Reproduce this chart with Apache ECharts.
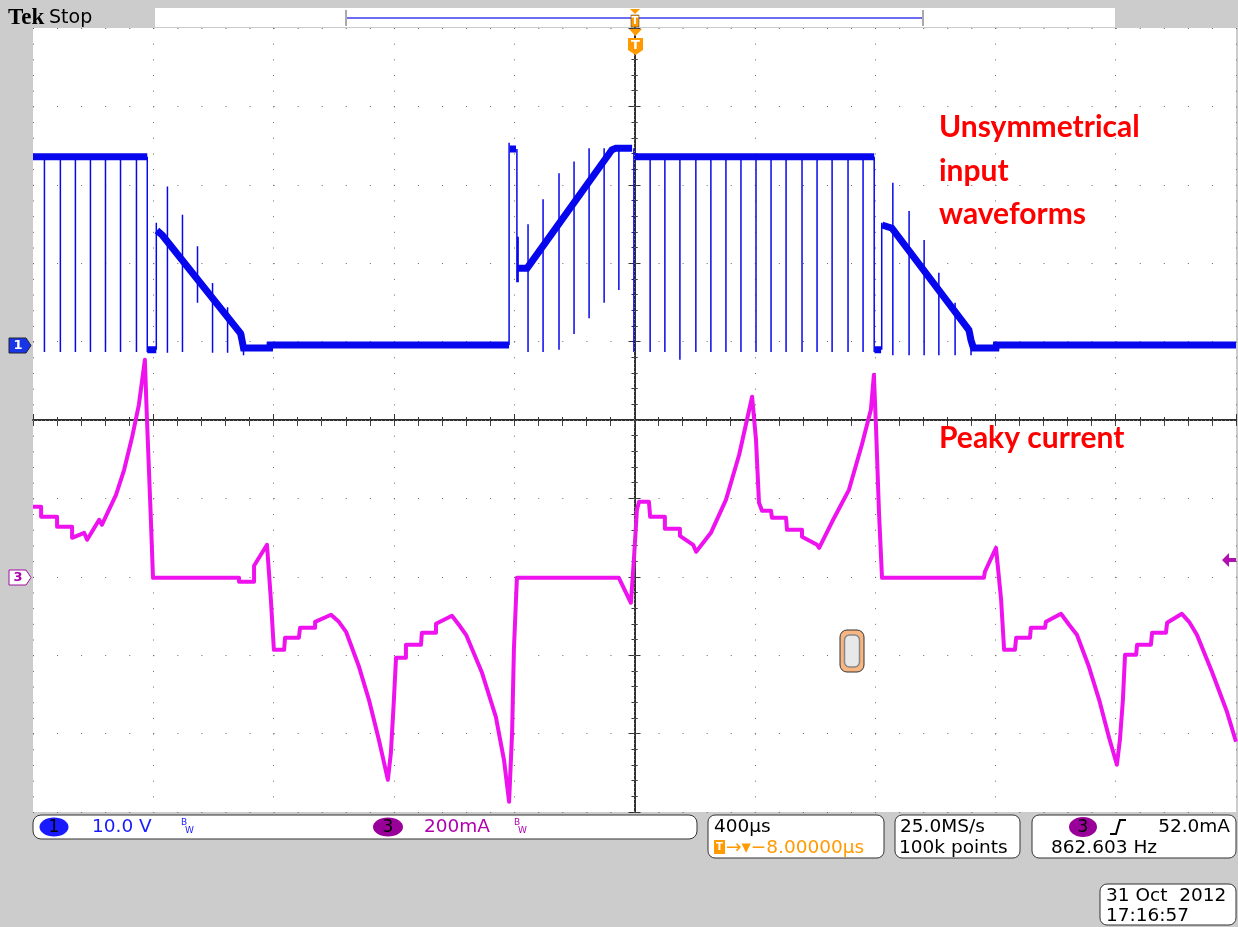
<!DOCTYPE html>
<html>
<head>
<meta charset="utf-8">
<script src="https://cdn.jsdelivr.net/npm/echarts@6/dist/echarts.min.js"></script>
<style>
  html, body { margin: 0; padding: 0; background: #cccccc; }
  #chart { width: 1238px; height: 927px; }
</style>
</head>
<body>
<div id="chart"></div>
<script>
// time base: 400 us/div, 10 divisions, trigger at the centre
const TIME_MIN = -2000;
const TIME_MAX = 2000;
const TIME_DIV = 400;

// channel 1 (10.0 V/div), ground marker a bit under one division above centre
const CH1_OFFSET_DIV = 0.957;
const CH1_VOLT_PER_DIV = 10;
// channel 3 (200 mA/div), ground marker two divisions below centre
const CH3_OFFSET_DIV = -2.0;
const CH3_MA_PER_DIV = 200;

// ch1 noisy level band (us, V); null = gap where the trace jumps
const ch1LevelTime = [-2000, -1620, null,
  -1620, -1590, null,
  -1588, -1570, -1310, -1305, -1300, -1213, -1212, -417, null,
  -415, -394, null,
  -390, -357, -75, -62, -8, null,
  -2, 797, null,
  798, 820, null,
  823, 856, 1112, 1119, 1127, 1202, 1203, 2000];
const ch1LevelVolt = [24.0, 24.0, null,
  -0.6, -0.6, null,
  14.6, 14.0, 1.5, 0.6, -0.4, -0.4, 0, 0, null,
  25.0, 25.0, null,
  9.8, 9.8, 24.9, 25.1, 25.1, null,
  24.0, 24.0, null,
  -0.6, -0.6, null,
  15.3, 14.9, 1.9, 0.6, -0.4, -0.4, 0, 0];

// ch1 switching pulses and edges (us, top V, bottom V)
const ch1SpikeTime = [-1962, -1909, -1859, -1809, -1759, -1709, -1656, -1620, -1590,
  -1553, -1503, -1453, -1403, -1353, -1300,
  -417, -391, -387, -354, -304, -251, -201, -151, -101, -52, -2,
  52, 101, 151, 204, 254, 304, 354, 404, 454, 504, 557, 607, 657, 710, 760, 797, 822,
  859, 913, 963, 1012, 1066, 1119];
const ch1SpikeTop = [24, 24, 24, 24, 24, 24, 24, 24, 15.6,
  20.2, 16.6, 12.6, 7.9, 4.8, 1.5,
  25.8, 25.0, 13.8, 15.4, 18.6, 21.9, 23.4, 25.1, 25.1, 24.9, 25.1,
  24, 24, 24, 24, 24, 24, 24, 24, 24, 24, 24, 24, 24, 24, 24, 24, 15.6,
  20.7, 17.1, 13.4, 9.2, 5.4, 1.5];
const ch1SpikeBottom = [-0.9, -0.9, -0.9, -0.9, -0.9, -0.9, -0.9, -0.9, -0.6,
  -1.0, -0.9, 5.4, -1.0, -1.0, -1.3,
  0, 8.0, 8.0, -0.9, -0.9, -0.6, 1.4, 3.4, 5.4, 7.0, -0.9,
  -0.9, -0.9, -1.9, -0.9, -0.9, -0.9, -0.9, -0.9, -0.9, -0.9, -0.9, -0.9, -0.9, -0.9, -0.9, -0.9, -0.6,
  -1.3, -1.3, -1.3, -1.3, -1.3, -1.3];

// ch3 current trace (us, mA)
const ch3Time = [-2000, -1973, -1973, -1920, -1920, -1870, -1870, -1830, -1820, -1780, -1771, -1724,
  -1697, -1671, -1648, -1628, -1621, -1608, -1601, -1315, -1315, -1265, -1265, -1222,
  -1209, -1199, -1165, -1162, -1116, -1112, -1062, -1062, -1009, -983, -959, -916,
  -883, -850, -820, -810, -800, -793, -760, -760, -710, -707, -660, -660,
  -607, -584, -560, -507, -461, -434, -417, -407, -401, -391, -52, -12,
  -2, 8, 15, 48, 52, 101, 101, 151, 151, 195, 205, 254,
  304, 348, 374, 391, 404, 414, 424, 454, 457, 504, 507, 557,
  557, 607, 614, 657, 713, 756, 786, 796, 803, 813, 823, 1162,
  1165, 1202, 1219, 1229, 1265, 1269, 1315, 1318, 1365, 1368, 1418, 1445,
  1471, 1511, 1545, 1578, 1604, 1614, 1624, 1631, 1668, 1671, 1717, 1721,
  1767, 1771, 1820, 1844, 1870, 1920, 1970, 2000];
const ch3Current = [178.6, 178.6, 153.1, 153.1, 127.6, 127.6, 99.5, 112.2, 94.4, 145.4, 132.7, 209.2,
  273.0, 354.6, 438.8, 553.6, 400.5, 145.4, -2.6, -2.6, -12.8, -12.8, 28.1, 81.6,
  -58.7, -186.2, -186.2, -155.6, -155.6, -130.1, -130.1, -114.8, -96.9, -114.8, -140.3, -229.6,
  -313.8, -415.8, -517.9, -449.0, -313.8, -206.6, -206.6, -173.5, -173.5, -142.9, -142.9, -119.9,
  -99.5, -122.4, -148.0, -244.9, -357.1, -466.8, -574.0, -398.0, -186.2, -2.6, -2.6, -66.3,
  43.4, 170.9, 191.3, 191.3, 153.1, 153.1, 122.4, 122.4, 104.6, 81.6, 63.8, 112.2,
  196.4, 311.2, 400.5, 459.2, 349.5, 188.8, 168.4, 168.4, 150.5, 150.5, 119.9, 119.9,
  102.0, 81.6, 74.0, 140.3, 221.9, 336.7, 426.0, 515.3, 382.7, 163.3, -2.6, -2.6,
  12.8, 74.0, -58.7, -186.2, -186.2, -155.6, -155.6, -130.1, -130.1, -114.8, -94.4, -122.4,
  -148.0, -229.6, -313.8, -410.7, -479.6, -415.8, -313.8, -199.0, -199.0, -173.5, -173.5, -142.9,
  -142.9, -117.3, -94.4, -114.8, -148.0, -242.3, -344.4, -420.9];

const ch1Level = ch1LevelTime.map((t, i) => (t === null ? [NaN, '-'] : [t, ch1LevelVolt[i]]));
const ch1Spikes = [];
ch1SpikeTime.forEach((t, i) => {
  ch1Spikes.push([t, ch1SpikeTop[i]], [t, ch1SpikeBottom[i]], [t, '-']);
});
const ch3Trace = ch3Time.map((t, i) => [t, ch3Current[i]]);

const chart = echarts.init(document.getElementById('chart'));

const GRID = { left: 33, top: 28, width: 1203, height: 784 };
const DOT = '#6a6a6a';
const BLUE = '#0707ee';
const MAG = '#ee12ee';
const ORANGE = '#ff9a00';
const READ_FONT = '"DejaVu Sans", sans-serif';
const RF = '18.5px ' + READ_FONT;
const NOTE_FONT = 'bold 30px Lato, "Open Sans", sans-serif';

const hiddenY = (min, max) => ({
  type: 'value', min, max, show: false, splitLine: { show: false },
});

const borderTicks = {
  axisLine: { show: true, lineStyle: { color: '#222', width: 1.5 } },
  axisTick: { show: true, inside: true, length: 6, lineStyle: { color: '#333' } },
  minorTick: { show: true, splitNumber: 5, length: 3, lineStyle: { color: '#333' } },
  axisLabel: { show: false },
};

const centreTicks = {
  axisLine: { show: false },
  axisTick: { show: true, length: 4, lineStyle: { color: '#444' } },
  minorTick: { show: true, splitNumber: 5, length: 4, lineStyle: { color: '#444' } },
  axisLabel: { show: false },
  splitLine: { show: false },
};

const txt = (text, x, y, font, fill, align) => ({
  type: 'text', z: 20,
  style: { text, x, y, font, fill, align: align || 'left', textAlign: align || 'left',
    verticalAlign: 'middle', textVerticalAlign: 'middle' },
});
const box = (x, y, width, height, r) => ({
  type: 'rect', z: 10,
  shape: { x, y, width, height, r },
  style: { fill: '#fff', stroke: '#333', lineWidth: 1 },
});

const graphic = [
  // top status strip
  { type: 'rect', z: 5, shape: { x: 155, y: 8, width: 960, height: 19 }, style: { fill: '#fff' } },
  { type: 'line', z: 6, shape: { x1: 347, y1: 18, x2: 922, y2: 18 }, style: { stroke: '#6d6df2', lineWidth: 2 } },
  { type: 'line', z: 6, shape: { x1: 346, y1: 10, x2: 346, y2: 26 }, style: { stroke: '#aaa', lineWidth: 2 } },
  { type: 'line', z: 6, shape: { x1: 923, y1: 10, x2: 923, y2: 26 }, style: { stroke: '#aaa', lineWidth: 2 } },
  { type: 'polygon', z: 7, shape: { points: [[630, 9], [640, 9], [635, 14]] }, style: { fill: ORANGE } },
  { type: 'rect', z: 7, shape: { x: 631, y: 15, width: 8, height: 12 }, style: { fill: ORANGE, stroke: '#333', lineWidth: 0.5 } },
  txt('T', 635, 21.5, 'bold 10px "DejaVu Sans"', '#fff', 'center'),
  { type: 'polygon', z: 7, shape: { points: [[629, 29], [642, 29], [635.5, 36]] }, style: { fill: ORANGE } },
  { type: 'polygon', z: 7, shape: { points: [[628, 38], [643, 38], [643, 50], [635.5, 55], [628, 50]] }, style: { fill: ORANGE } },
  txt('T', 635.5, 46, 'bold 13px "DejaVu Sans"', '#fff', 'center'),
  txt('Tek', 8, 18, 'bold 23px "Liberation Serif", serif', '#000'),
  txt('Stop', 49, 18, '19px "DejaVu Sans", sans-serif', '#000'),

  // channel markers
  { type: 'polygon', z: 8, shape: { points: [[9, 338], [26, 338], [31, 345.5], [26, 353], [9, 353]] }, style: { fill: '#1836e8', stroke: '#223', lineWidth: 1 } },
  txt('1', 18, 346, 'bold 13px "DejaVu Sans"', '#fff', 'center'),
  { type: 'polygon', z: 8, shape: { points: [[9, 570], [26, 570], [31, 577.5], [26, 585], [9, 585]] }, style: { fill: '#fff', stroke: '#a010a0', lineWidth: 1 } },
  txt('3', 18, 578, 'bold 13px "DejaVu Sans"', '#b000b0', 'center'),
  { type: 'polygon', z: 8, shape: { points: [[1222, 560], [1229, 553], [1229, 558], [1236, 558], [1236, 562], [1229, 562], [1229, 567]] }, style: { fill: '#b010b0' } },

  // handle icon
  { type: 'rect', z: 8, shape: { x: 840, y: 630, width: 24, height: 42, r: 7 }, style: { fill: '#f7b582', stroke: '#333', lineWidth: 1 } },
  { type: 'rect', z: 9, shape: { x: 844.5, y: 635, width: 15, height: 32, r: 5 }, style: { fill: '#e8e8e8', stroke: '#888', lineWidth: 1.5 } },

  // annotations
  txt('Unsymmetrical', 939, 127, NOTE_FONT, '#ff0000'),
  txt('input', 939, 171, NOTE_FONT, '#ff0000'),
  txt('waveforms', 939, 214, NOTE_FONT, '#ff0000'),
  txt('Peaky current', 939, 438, NOTE_FONT, '#ff0000'),

  // readout boxes
  box(33, 815, 664, 24, 8),
  { type: 'ellipse', z: 11, shape: { cx: 54, cy: 827, rx: 14.5, ry: 9.5 }, style: { fill: '#1a1aff' } },
  txt('1', 54, 828, '17px ' + READ_FONT, '#000', 'center'),
  txt('10.0 V', 92, 827, RF, '#1a1aff'),
  txt('B', 181, 823, '9px ' + READ_FONT, '#1a1aff'),
  txt('W', 185, 831, '9px ' + READ_FONT, '#1a1aff'),
  { type: 'ellipse', z: 11, shape: { cx: 388, cy: 827, rx: 15, ry: 9.5 }, style: { fill: '#990099' } },
  txt('3', 388, 828, '17px ' + READ_FONT, '#000', 'center'),
  txt('200mA', 424, 827, RF, '#b000b0'),
  txt('B', 514, 823, '9px ' + READ_FONT, '#b000b0'),
  txt('W', 518, 831, '9px ' + READ_FONT, '#b000b0'),

  box(708, 815, 176, 43, 7),
  txt('400µs', 714, 827, RF, '#000'),
  { type: 'rect', z: 11, shape: { x: 714, y: 840, width: 11, height: 14 }, style: { fill: ORANGE } },
  txt('T', 719.5, 847, 'bold 10px "DejaVu Sans"', '#fff', 'center'),
  txt('→▾−8.00000µs', 726, 848, RF, ORANGE),

  box(895, 815, 125, 43, 7),
  txt('25.0MS/s', 900, 827, RF, '#000'),
  txt('100k points', 899, 848, RF, '#000'),

  box(1032, 815, 204, 43, 7),
  { type: 'ellipse', z: 11, shape: { cx: 1083, cy: 827, rx: 14, ry: 10 }, style: { fill: '#990099' } },
  txt('3', 1083, 828, '17px ' + READ_FONT, '#000', 'center'),
  { type: 'polyline', z: 11, shape: { points: [[1110, 834], [1116, 834], [1120, 820], [1126, 820]] }, style: { stroke: '#000', lineWidth: 2, fill: null } },
  txt('52.0mA', 1230, 827, RF, '#000', 'right'),
  txt('862.603 Hz', 1051, 848, RF, '#000'),

  box(1100, 884, 136, 41, 7),
  txt('31 Oct  2012', 1106, 896, RF, '#000'),
  txt('17:16:57', 1106, 916, RF, '#000'),
];

chart.setOption({
  animation: false,
  backgroundColor: '#cccccc',
  grid: Object.assign({ show: true, backgroundColor: '#ffffff', borderWidth: 0 }, GRID),
  xAxis: [
    Object.assign({
      type: 'value', min: TIME_MIN, max: TIME_MAX, interval: TIME_DIV, position: 'bottom',
      splitLine: { show: true, lineStyle: { color: DOT, width: 1, type: [1, 14.68] } },
    }, borderTicks),
    Object.assign({
      type: 'value', min: TIME_MIN, max: TIME_MAX, interval: TIME_DIV, position: 'top',
      splitLine: { show: false },
    }, borderTicks),
    Object.assign({
      type: 'value', min: TIME_MIN, max: TIME_MAX, interval: TIME_DIV, position: 'bottom', offset: -394,
    }, centreTicks),
  ],
  yAxis: [
    Object.assign({
      type: 'value', min: -5, max: 5, interval: 1, position: 'left',
      splitLine: { show: true, lineStyle: { color: DOT, width: 1, type: [1, 23.06] } },
    }, borderTicks),
    Object.assign({
      type: 'value', min: -5, max: 5, interval: 1, position: 'right', splitLine: { show: false },
    }, borderTicks),
    Object.assign({
      type: 'value', min: -5, max: 5, interval: 1, position: 'left', offset: -604.5,
    }, centreTicks),
    hiddenY((-5 - CH1_OFFSET_DIV) * CH1_VOLT_PER_DIV, (5 - CH1_OFFSET_DIV) * CH1_VOLT_PER_DIV),
    hiddenY((-5 - CH3_OFFSET_DIV) * CH3_MA_PER_DIV, (5 - CH3_OFFSET_DIV) * CH3_MA_PER_DIV),
  ],
  graphic,
  series: [
    {
      // centre graticule lines
      name: 'graticule', type: 'line', xAxisIndex: 0, yAxisIndex: 0,
      data: [[0, 0]], symbol: 'none', lineStyle: { opacity: 0 }, silent: true,
      markLine: {
        silent: true, symbol: ['none', 'none'], label: { show: false },
        lineStyle: { color: '#777', width: 1, type: [1, 3] },
        data: [{ xAxis: 0 }, { yAxis: 0 }],
      },
    },
    {
      name: 'CH3', type: 'line', xAxisIndex: 0, yAxisIndex: 4, data: ch3Trace,
      symbol: 'none', z: 3, lineStyle: { color: MAG, width: 4, join: 'round' },
    },
    {
      name: 'CH1 pulses', type: 'line', xAxisIndex: 0, yAxisIndex: 3, data: ch1Spikes,
      symbol: 'none', connectNulls: false, z: 4, lineStyle: { color: BLUE, width: 1.5 },
    },
    {
      name: 'CH1', type: 'line', xAxisIndex: 0, yAxisIndex: 3, data: ch1Level,
      symbol: 'none', connectNulls: false, z: 4, lineStyle: { color: BLUE, width: 7, cap: 'butt', join: 'miter' },
    },
  ],
});
</script>
</body>
</html>
